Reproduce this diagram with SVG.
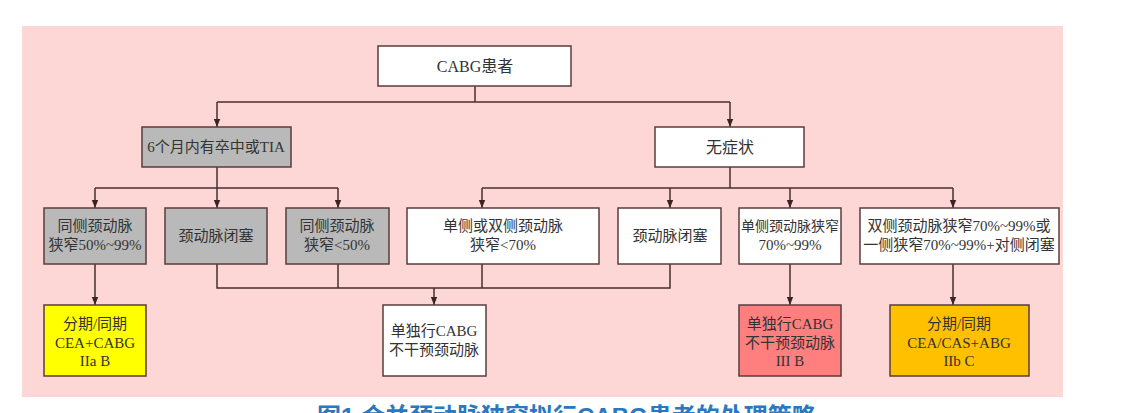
<svg xmlns="http://www.w3.org/2000/svg" width="1132" height="413" viewBox="0 0 1132 413">
<style>
.bx{stroke:#5a3c3c;stroke-width:1.5}
.w{fill:#ffffff}
.g{fill:#b9b9b9}
.t{font-family:"Liberation Serif","Noto Sans CJK SC",serif;font-size:15px;fill:#333;text-anchor:middle}
.t16{font-size:16px}
.ln{fill:none;stroke:#4a2e2e;stroke-width:1.5}
.cap{font-family:"Liberation Sans","Noto Sans CJK SC",sans-serif;font-size:24px;font-weight:bold;fill:#2a78bf}
</style>
<defs>
<marker id="ar" viewBox="0 0 8 8" refX="8" refY="4" markerWidth="8" markerHeight="8" markerUnits="userSpaceOnUse" orient="auto">
<path d="M0,0.8 L8,4 L0,7.2 Z" fill="#3a2424"/>
</marker>
</defs>
<rect x="0" y="0" width="1132" height="413" fill="#ffffff"/>
<rect x="22" y="26" width="1041" height="371" fill="#fdd6d6"/>
<g id="connectors">
<path class="ln" d="M475,86 V102"/>
<path class="ln" d="M217,102 H730"/>
<path class="ln" d="M217,102 V127" marker-end="url(#ar)"/>
<path class="ln" d="M730,102 V127" marker-end="url(#ar)"/>
<path class="ln" d="M217,167 V188"/>
<path class="ln" d="M95,188 H338"/>
<path class="ln" d="M95,188 V208" marker-end="url(#ar)"/>
<path class="ln" d="M217,188 V208" marker-end="url(#ar)"/>
<path class="ln" d="M338,188 V208" marker-end="url(#ar)"/>
<path class="ln" d="M730,167 V188"/>
<path class="ln" d="M482,188 H953"/>
<path class="ln" d="M482,188 V208" marker-end="url(#ar)"/>
<path class="ln" d="M670,188 V208" marker-end="url(#ar)"/>
<path class="ln" d="M790,188 V208" marker-end="url(#ar)"/>
<path class="ln" d="M953,188 V208" marker-end="url(#ar)"/>
<path class="ln" d="M95,264 V305" marker-end="url(#ar)"/>
<path class="ln" d="M217,264 V288 H670 V264"/>
<path class="ln" d="M338,264 V288"/>
<path class="ln" d="M482,264 V288"/>
<path class="ln" d="M434,288 V305" marker-end="url(#ar)"/>
<path class="ln" d="M790,264 V305" marker-end="url(#ar)"/>
<path class="ln" d="M953,264 V305" marker-end="url(#ar)"/>
</g>
<g id="n-cabg"><rect class="bx w" x="378" y="46" width="193" height="40"/><text class="t t16" x="475" y="72">CABG患者</text></g>
<g id="n-stroke"><rect class="bx g" x="142" y="127" width="149" height="40"/><text class="t" x="216" y="152">6个月内有卒中或TIA</text></g>
<g id="n-asym"><rect class="bx w" x="655" y="127" width="149" height="40"/><text class="t t16" x="730" y="153">无症状</text></g>
<g id="n-ipsi5099"><rect class="bx g" x="44" y="208" width="102" height="56"/><text class="t" x="95" y="231">同侧颈动脉</text><text class="t" x="95" y="250">狭窄50%~99%</text></g>
<g id="n-occl1"><rect class="bx g" x="165" y="208" width="102" height="56"/><text class="t" x="216" y="241">颈动脉闭塞</text></g>
<g id="n-ipsi50"><rect class="bx g" x="286" y="208" width="103" height="56"/><text class="t" x="337" y="231">同侧颈动脉</text><text class="t" x="337" y="250">狭窄&lt;50%</text></g>
<g id="n-uni70"><rect class="bx w" x="407" y="208" width="192" height="56"/><text class="t" x="503" y="231">单侧或双侧颈动脉</text><text class="t" x="503" y="250">狭窄&lt;70%</text></g>
<g id="n-occl2"><rect class="bx w" x="618" y="208" width="103" height="56"/><text class="t" x="670" y="241">颈动脉闭塞</text></g>
<g id="n-uni7099"><rect class="bx w" x="739" y="208" width="102" height="56"/><text class="t" x="790" y="231" style="font-size:14px">单侧颈动脉狭窄</text><text class="t" x="790" y="250">70%~99%</text></g>
<g id="n-bil7099"><rect class="bx w" x="860" y="208" width="199" height="56"/><text class="t" x="959" y="231">双侧颈动脉狭窄70%~99%或</text><text class="t" x="959" y="250">一侧狭窄70%~99%+对侧闭塞</text></g>
<g id="n-yellow"><rect class="bx" fill="#ffff00" x="44" y="305" width="102" height="71"/><text class="t" x="95" y="329">分期/同期</text><text class="t" x="95" y="348">CEA+CABG</text><text class="t" x="95" y="366">IIa B</text></g>
<g id="n-white"><rect class="bx w" x="383" y="305" width="103" height="71"/><text class="t" x="434" y="336">单独行CABG</text><text class="t" x="434" y="355">不干预颈动脉</text></g>
<g id="n-red"><rect class="bx" fill="#ff7f7f" x="739" y="305" width="102" height="71"/><text class="t" x="790" y="329">单独行CABG</text><text class="t" x="790" y="348">不干预颈动脉</text><text class="t" x="790" y="366">III B</text></g>
<g id="n-orange"><rect class="bx" fill="#ffc000" x="890" y="305" width="139" height="71"/><text class="t" x="959" y="329">分期/同期</text><text class="t" x="959" y="348">CEA/CAS+ABG</text><text class="t" x="959" y="366">IIb C</text></g>
<text class="cap" x="317" y="425">图1 合并颈动脉狭窄拟行CABG患者的处理策略</text>
</svg>
